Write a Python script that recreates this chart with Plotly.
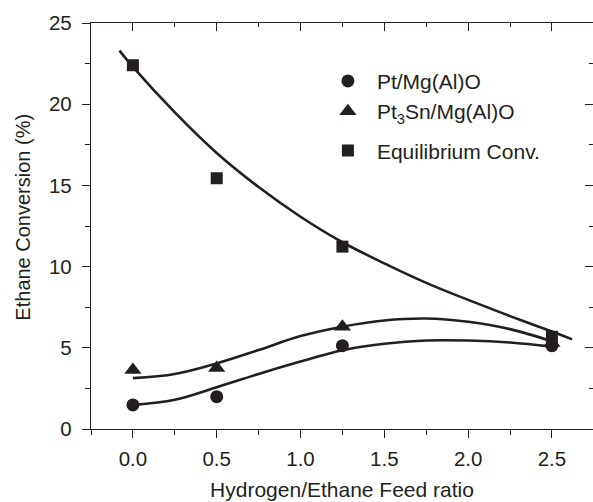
import plotly.graph_objects as go

# Measured data points
x_ratio = [0.0, 0.5, 1.25, 2.5]
pt_conv = [1.48, 1.99, 5.13, 5.13]
pt3sn_conv = [3.63, 3.75, 6.3, 5.3]
equil_conv = [22.4, 15.44, 11.23, 5.68]

# Fitted curves
fit_x_equil = [-0.08, 0.0, 0.25, 0.5, 0.75, 1.0, 1.25, 1.5, 1.75, 2.0, 2.25, 2.5, 2.62]
fit_equil = [23.3, 22.3, 19.5, 17.0, 14.9, 13.07, 11.5, 10.2, 9.0, 7.95, 6.95, 6.0, 5.52]
fit_x = [0.0, 0.25, 0.5, 0.75, 1.0, 1.25, 1.5, 1.75, 2.0, 2.25, 2.5]
fit_pt = [1.48, 1.8, 2.57, 3.39, 4.15, 4.85, 5.25, 5.45, 5.45, 5.33, 5.07]
fit_pt3sn = [3.13, 3.39, 4.04, 4.86, 5.72, 6.3, 6.68, 6.8, 6.6, 6.15, 5.4]

names = ["Pt/Mg(Al)O", "Pt<sub>3</sub>Sn/Mg(Al)O", "Equilibrium Conv."]
x_title = "Hydrogen/Ethane Feed ratio"
y_title = "Ethane Conversion (%)"

C = "#231f20"
FONT = "Liberation Sans, Arial, sans-serif"

fig = go.Figure()

for fx, fy in [(fit_x_equil, fit_equil), (fit_x, fit_pt), (fit_x, fit_pt3sn)]:
    fig.add_trace(go.Scatter(x=fx, y=fy, mode="lines", line=dict(color=C, width=2.6, shape="spline"),
                             showlegend=False, hoverinfo="skip"))

fig.add_trace(go.Scatter(x=x_ratio, y=pt_conv, mode="markers", name=names[0], legendgroup="a",
                         marker=dict(symbol="circle", size=13, color=C)))
fig.add_trace(go.Scatter(x=x_ratio, y=pt3sn_conv, mode="markers", name=names[1], legendgroup="a",
                         marker=dict(symbol="triangle-up", size=15, color=C)))
fig.add_trace(go.Scatter(x=x_ratio, y=equil_conv, mode="markers", name=names[2], legendgroup="b",
                         marker=dict(symbol="square", size=12, color=C)))

# invisible trace for the mirrored (top/right) axes
fig.add_trace(go.Scatter(x=[x_ratio[0]], y=[pt_conv[0]], xaxis="x2", yaxis="y2", mode="markers",
                         marker=dict(opacity=0), showlegend=False, hoverinfo="skip"))

xr = [-0.25, 2.745]
yr = [0, 25]
common = dict(showgrid=False, zeroline=False, showline=True, linecolor=C, linewidth=1.3,
              tickcolor=C, tickwidth=1.3)

fig.update_layout(
    width=593, height=502,
    margin=dict(l=91, r=0, t=23, b=73),
    plot_bgcolor="white", paper_bgcolor="white",
    font=dict(family=FONT, size=20, color=C),
    xaxis=dict(range=xr, tick0=0, dtick=0.5, tickformat=".1f", ticks="outside", ticklen=8,
               ticklabelstandoff=3, tickfont=dict(size=20.5),
               minor=dict(tick0=0, dtick=0.25, ticks="outside", ticklen=5, tickwidth=1.3, tickcolor=C),
               title=dict(text=x_title, font=dict(size=21), standoff=13), **common),
    yaxis=dict(range=yr, tick0=0, dtick=5, ticks="outside", ticklen=8, ticklabelstandoff=6,
               tickfont=dict(size=20.5),
               minor=dict(tick0=0, dtick=2.5, ticks="outside", ticklen=5, tickwidth=1.3, tickcolor=C),
               **common),
    xaxis2=dict(range=xr, overlaying="x", side="top", tick0=0, dtick=0.5, ticks="inside", ticklen=8,
                showticklabels=False,
                minor=dict(tick0=0, dtick=0.25, ticks="inside", ticklen=4, tickwidth=1.3, tickcolor=C),
                **common),
    yaxis2=dict(range=yr, overlaying="y", side="right", tick0=0, dtick=5, ticks="inside", ticklen=8,
                showticklabels=False,
                minor=dict(tick0=0, dtick=2.5, ticks="inside", ticklen=4, tickwidth=1.3, tickcolor=C),
                **common),
    legend=dict(x=0.454, y=0.907, xanchor="left", yanchor="top", bgcolor="rgba(0,0,0,0)",
                font=dict(size=21), itemwidth=48, tracegroupgap=9, traceorder="grouped"),
    showlegend=True,
    annotations=[dict(text=y_title, textangle=-90, xref="paper", yref="paper",
                      x=-0.1355, y=0.523, xanchor="center", yanchor="middle", showarrow=False,
                      font=dict(size=20, color=C))],
)

fig.write_html("out.html")
